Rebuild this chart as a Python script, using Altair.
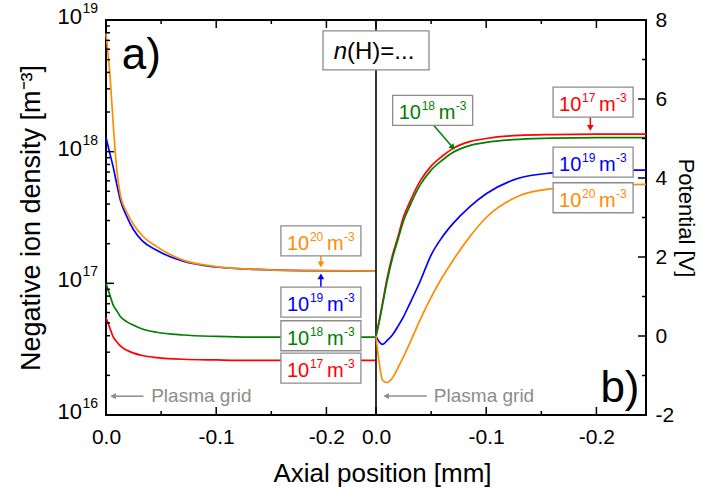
import json
import altair as alt
import pandas as pd

FONT = "Liberation Sans"
SPAN = 0.245  # mm of axial position shown in each panel

# ---------------- data ----------------
series_names = ["1e17", "1e18", "1e19", "1e20"]
series_colors = ["#ff0000", "#008000", "#0000ff", "#ff8c00"]

x_density = [0, -0.0036, -0.0066, -0.0097, -0.013, -0.019, -0.025, -0.033,
             -0.046, -0.07, -0.1, -0.13, -0.18, -0.245]
dens_1e17 = [5.5e16, 4.55e16, 3.9e16, 3.6e16, 3.35e16, 3.1e16, 2.95e16, 2.83e16,
             2.73e16, 2.65e16, 2.62e16, 2.6e16, 2.6e16, 2.6e16]
dens_1e18 = [1.0e17, 8.1e16, 6.8e16, 6.2e16, 5.6e16, 5.1e16, 4.8e16, 4.5e16,
             4.25e16, 4.05e16, 3.95e16, 3.9e16, 3.9e16, 3.9e16]
dens_1e19 = [1.28e18, 9.6e17, 7.6e17, 5.7e17, 4.3e17, 3.2e17, 2.55e17, 2.1e17,
             1.78e17, 1.47e17, 1.33e17, 1.28e17, 1.25e17, 1.24e17]
dens_1e20 = [7.9e18, 3.8e18, 1.6e18, 7.4e17, 4.7e17, 3.45e17, 2.8e17, 2.3e17,
             1.9e17, 1.5e17, 1.34e17, 1.28e17, 1.25e17, 1.24e17]

x_potential = [0, -0.003, -0.006, -0.01, -0.015, -0.02, -0.025, -0.03, -0.04,
               -0.05, -0.06, -0.07, -0.085, -0.1, -0.13, -0.16, -0.2, -0.245]
pot_1e17 = [0.0, 0.4, 0.85, 1.45, 2.05, 2.52, 3.02, 3.35, 3.92,
            4.3, 4.55, 4.75, 4.92, 5.0, 5.08, 5.1, 5.11, 5.11]
pot_1e18 = [0.0, 0.37, 0.8, 1.38, 1.98, 2.45, 2.92, 3.25, 3.82,
            4.2, 4.45, 4.65, 4.82, 4.9, 4.98, 5.01, 5.02, 5.02]
pot_1e19 = [0.0, -0.15, -0.21, -0.12, 0.03, 0.25, 0.49, 0.78, 1.38,
            2.05, 2.5, 2.85, 3.27, 3.6, 4.0, 4.13, 4.19, 4.2]
pot_1e20 = [0.0, -0.7, -1.12, -1.18, -1.06, -0.8, -0.52, -0.22, 0.41,
            0.98, 1.48, 1.92, 2.51, 3.0, 3.55, 3.73, 3.81, 3.84]

# axis ticks
x_ticks_mm = [0.0, -0.05, -0.1, -0.15, -0.2]
x_major_mm = [0.0, -0.1, -0.2]
x_major_labels = ["0.0", "-0.1", "-0.2"]
dens_domain = [1e16, 1e19]
dens_major = [1e16, 1e17, 1e18, 1e19]
dens_major_exp = ["16", "17", "18", "19"]
dens_minor_mult = [2, 3, 4, 5, 6, 7, 8, 9]
pot_domain = [-2, 8]
pot_ticks = [-2, -1, 0, 1, 2, 3, 4, 5, 6, 7, 8]
pot_major = [-2, 0, 2, 4, 6, 8]
pot_major_labels = ["-2", "0", "2", "4", "6", "8"]

# annotation boxes
left_box_exps = ["20", "19", "18", "17"]
left_box_colors = ["#ff8c00", "#0000ff", "#008000", "#ff0000"]
left_box_x = [-0.195, -0.195, -0.195, -0.195]
left_box_y = [2.1e17, 7.2e16, 4.0e16, 2.27e16]

right_box_exps = ["17", "18", "19", "20"]
right_box_colors = ["#ff0000", "#008000", "#0000ff", "#ff8c00"]
right_box_x = [-0.197, -0.0514, -0.197, -0.197]
right_box_y = [5.92, 5.71, 4.40, 3.50]

left_arrow_colors = ["#ff8c00", "#0000ff"]
left_arrow_x1 = [-0.195, -0.195]
left_arrow_x2 = [-0.195, -0.195]
left_arrow_y1 = [1.63e17, 9.3e16]
left_arrow_y2 = [1.39e17, 1.13e17]
left_arrow_shape = ["triangle-down", "triangle-up"]
left_arrow_angle = [0, 0]

right_arrow_colors = ["#ff0000", "#008000"]
right_arrow_x1 = [-0.1945, -0.0521]
right_arrow_x2 = [-0.1945, -0.0697]
right_arrow_y1 = [5.54, 5.34]
right_arrow_y2 = [5.27, 4.77]
right_arrow_shape = ["triangle-down", "triangle-down"]
right_arrow_angle = [0, 319]

GRAY = "#8c8c8c"
pg_text = "Plasma grid"
pg_left = {"tx": -0.041, "ty": 1.39e16, "ax1": -0.034, "ax2": -0.0064}
pg_right = {"tx": -0.0525, "ty": -1.52, "ax1": -0.046, "ax2": -0.0092}

panel_a = {"t": "a)", "x": -0.0143, "y": 4.26e18}
panel_b = {"t": "b)", "x": -0.2036, "y": -1.67}
nh_box = {"x": 0.0, "y": 7.23}

# ---------------- helpers ----------------
def lpos(v):
    return round(-v, 6) + 0.0


def rpos(v):
    return round(SPAN - v, 6) + 0.0


x_pos_all = [lpos(v) for v in x_ticks_mm] + [rpos(v) for v in x_ticks_mm]
x_pos_major = [lpos(v) for v in x_major_mm] + [rpos(v) for v in x_major_mm]
x_pos_minor = [p for p in x_pos_all if p not in x_pos_major]
x_label_expr = (f"{json.dumps(x_major_labels * 2)}"
                f"[indexof({json.dumps(x_pos_major)}, datum.value)] || ''")

dens_minor = []
for k in dens_major[:-1]:
    dens_minor += [m * k for m in dens_minor_mult]
pot_minor = [v for v in pot_ticks if v not in pot_major]

pot_label_expr = (f"{json.dumps(pot_major_labels)}"
                  f"[indexof({json.dumps(pot_major)}, datum.value)] || ''")

X_SCALE = alt.Scale(domain=[0, 2 * SPAN], nice=False, zero=False)
YL_SCALE = alt.Scale(type="log", domain=dens_domain, nice=False)
YR_SCALE = alt.Scale(domain=pot_domain, nice=False, zero=False)

NOTICKS = dict(ticks=False, tickSize=0, domain=False, grid=False)

AX_BOTTOM = alt.Axis(orient="bottom", values=x_pos_major, labelExpr=x_label_expr,
                     labelPadding=11, labelFlush=False, labelOverlap=False,
                     title="Axial position [mm]", titlePadding=13, titleX=276,
                     titleFontSize=26, **NOTICKS)
AX_TOP = alt.Axis(orient="top", values=x_pos_major, labels=False, title=None, **NOTICKS)
AX_LEFT = alt.Axis(orient="left", values=dens_major, labels=False,
                   title="Negative ion density [m⁻³]", titlePadding=61, titleFontSize=27,
                   **NOTICKS)
AX_RIGHT = alt.Axis(orient="right", values=pot_major, labelExpr=pot_label_expr,
                    labelPadding=9, labelFlush=False, labelOverlap=False,
                    title="Potential [V]", titlePadding=0, titleFontSize=22, **NOTICKS)


def XL(f="pos"):
    return alt.X(f"{f}:Q", scale=X_SCALE, axis=AX_BOTTOM)


def XR(f="pos"):
    return alt.X(f"{f}:Q", scale=X_SCALE, axis=AX_TOP)


def YL(f="yv"):
    return alt.Y(f"{f}:Q", scale=YL_SCALE, axis=AX_LEFT)


def YR(f="yv"):
    return alt.Y(f"{f}:Q", scale=YR_SCALE, axis=AX_RIGHT)


COL = alt.Color("col:N", scale=None)


def series_frame(xs, series):
    rows = []
    for name, col, vals in zip(series_names, series_colors, series):
        for x, v in zip(xs, vals):
            rows.append({"series": name, "col": col, "x": x, "yv": v})
    return pd.DataFrame(rows)


dens_df = series_frame(x_density, [dens_1e17, dens_1e18, dens_1e19, dens_1e20])
pot_df = series_frame(x_potential, [pot_1e17, pot_1e18, pot_1e19, pot_1e20])

BOX_PATH = "M-1,-0.375L1,-0.375L1,0.375L-1,0.375Z"
NH_PATH = "M-1,-0.368L1,-0.368L1,0.368L-1,0.368Z"

# inward tick glyphs: a stroke from the frame edge into the plot
TICK_UP = "M0,0L0,-1"
TICK_DOWN = "M0,0L0,1"
TICK_RIGHT = "M0,0L1,0"
TICK_LEFT = "M0,0L-1,0"
MAJOR_SIZE = 256   # 8 px long
MINOR_SIZE = 64    # 4 px long


def tick_layer(pos_vals, y_vals, path, size, X, Y):
    df = pd.DataFrame({"pos": pos_vals, "yv": y_vals})
    return alt.Chart(df).mark_point(shape=path, size=size, filled=False, color="black",
                                    strokeWidth=1.5, opacity=1).encode(x=X(), y=Y())


def label_layers(df, X, Y):
    base = alt.Chart(df)
    box = base.mark_point(shape=BOX_PATH, size=6400, filled=True, fill="white",
                          stroke="#8c8c8c", strokeWidth=1.3, opacity=1).encode(x=X(), y=Y())
    ten = base.mark_text(align="left", baseline="alphabetic", dx=-34, dy=9,
                         fontSize=20).encode(x=X(), y=Y(), text="ten:N", color=COL)
    ex = base.mark_text(align="left", baseline="alphabetic", dx=-11, dy=0,
                        fontSize=12).encode(x=X(), y=Y(), text="exp:N", color=COL)
    m = base.mark_text(align="left", baseline="alphabetic", dx=6, dy=9,
                       fontSize=20).encode(x=X(), y=Y(), text="unit:N", color=COL)
    mex = base.mark_text(align="left", baseline="alphabetic", dx=23, dy=0,
                         fontSize=12).encode(x=X(), y=Y(), text="uexp:N", color=COL)
    return [box, ten, ex, m, mex]


def box_frame(xs, ys, exps, cols, tofpos):
    return pd.DataFrame({"pos": [tofpos(v) for v in xs], "yv": ys, "exp": exps,
                         "col": cols, "ten": ["10"] * len(xs), "unit": ["m"] * len(xs),
                         "uexp": ["-3"] * len(xs)})


def arrow_layers(x1, x2, y1, y2, cols, shapes, angles, tofpos, X, Y):
    df = pd.DataFrame({"pos": [tofpos(v) for v in x1], "pos2": [tofpos(v) for v in x2],
                       "yv": y1, "yv2": y2, "col": cols, "shape": shapes, "ang": angles})
    base = alt.Chart(df)
    rule = base.mark_rule(strokeWidth=1.5).encode(
        x=X(), x2=alt.X2("pos2:Q"), y=Y(), y2=alt.Y2("yv2:Q"), color=COL)
    head = base.mark_point(filled=True, size=45, opacity=1).encode(
        x=X("pos2"), y=Y("yv2"), color=COL,
        shape=alt.Shape("shape:N", scale=None), angle=alt.Angle("ang:Q", scale=None))
    return [rule, head]


def plasma_layers(pg, tofpos, X, Y):
    df = pd.DataFrame({"pos": [tofpos(pg["ax1"])], "pos2": [tofpos(pg["ax2"])],
                       "tpos": [tofpos(pg["tx"])], "yv": [pg["ty"]],
                       "t": [pg_text], "shape": ["triangle-left"]})
    base = alt.Chart(df)
    rule = base.mark_rule(strokeWidth=1.5, color=GRAY).encode(
        x=X(), x2=alt.X2("pos2:Q"), y=Y())
    head = base.mark_point(filled=True, size=40, opacity=1, color=GRAY).encode(
        x=X("pos2"), y=Y(), shape=alt.Shape("shape:N", scale=None))
    txt = base.mark_text(align="left", baseline="middle", fontSize=19, color=GRAY).encode(
        x=X("tpos"), y=Y(), text="t:N")
    return [rule, head, txt]


# ---------------- left panel (density, log) ----------------
lines_L = alt.Chart(dens_df).transform_calculate(pos="-datum.x").mark_line(
    interpolate="monotone", strokeWidth=1.7).encode(
    x=XL(), y=YL(), color=COL, detail="series:N")

divider = alt.Chart(pd.DataFrame({"pos": [SPAN]})).mark_rule(
    color="black", strokeWidth=1.6).encode(x=XL())

a_df = pd.DataFrame({"pos": [lpos(panel_a["x"])], "yv": [panel_a["y"]], "t": [panel_a["t"]]})
a_txt = alt.Chart(a_df).mark_text(align="left", baseline="alphabetic", fontSize=44,
                                  color="black").encode(x=XL(), y=YL(), text="t:N")

tick_df = pd.DataFrame({"pos": [0.0] * len(dens_major), "yv": dens_major,
                        "ten": ["10"] * len(dens_major), "exp": dens_major_exp})
tick_ten = alt.Chart(tick_df).mark_text(align="right", baseline="alphabetic", dx=-24, dy=4,
                                        fontSize=22, color="black").encode(
    x=XL(), y=YL(), text="ten:N")
tick_exp = alt.Chart(tick_df).mark_text(align="right", baseline="alphabetic", dx=-8, dy=-7,
                                        fontSize=14, color="black").encode(
    x=XL(), y=YL(), text="exp:N")

nmaj, nmin = len(x_pos_major), len(x_pos_minor)
frame_ticks = [
    tick_layer(x_pos_major, [dens_domain[0]] * nmaj, TICK_UP, MAJOR_SIZE, XL, YL),
    tick_layer(x_pos_minor, [dens_domain[0]] * nmin, TICK_UP, MINOR_SIZE, XL, YL),
    tick_layer(x_pos_major, [dens_domain[1]] * nmaj, TICK_DOWN, MAJOR_SIZE, XL, YL),
    tick_layer(x_pos_minor, [dens_domain[1]] * nmin, TICK_DOWN, MINOR_SIZE, XL, YL),
    tick_layer([0.0] * len(dens_major), dens_major, TICK_RIGHT, MAJOR_SIZE, XL, YL),
    tick_layer([0.0] * len(dens_minor), dens_minor, TICK_RIGHT, MINOR_SIZE, XL, YL),
]

left_layers = [lines_L, divider] + frame_ticks
left_layers += plasma_layers(pg_left, lpos, XL, YL)
left_layers += [a_txt]
left_layers += arrow_layers(left_arrow_x1, left_arrow_x2, left_arrow_y1, left_arrow_y2,
                            left_arrow_colors, left_arrow_shape, left_arrow_angle, lpos, XL, YL)
left_layers += label_layers(box_frame(left_box_x, left_box_y, left_box_exps,
                                      left_box_colors, lpos), XL, YL)
left_layers += [tick_ten, tick_exp]
left = alt.layer(*left_layers)

# ---------------- right panel (potential) ----------------
lines_R = alt.Chart(pot_df).transform_calculate(pos=f"{SPAN} - datum.x").mark_line(
    interpolate="monotone", strokeWidth=1.7).encode(
    x=XR(), y=YR(), color=COL, detail="series:N")

b_df = pd.DataFrame({"pos": [rpos(panel_b["x"])], "yv": [panel_b["y"]], "t": [panel_b["t"]]})
b_txt = alt.Chart(b_df).mark_text(align="left", baseline="alphabetic", fontSize=44,
                                  color="black").encode(x=XR(), y=YR(), text="t:N")

nh_df = pd.DataFrame({"pos": [rpos(nh_box["x"])], "yv": [nh_box["y"]],
                      "n": ["n"], "rest": ["(H)=..."]})
nh_rect = alt.Chart(nh_df).mark_point(shape=NH_PATH, size=106 * 106, filled=True, fill="white",
                                      stroke="#8c8c8c", strokeWidth=1.3, opacity=1).encode(
    x=XR(), y=YR())
nh_n = alt.Chart(nh_df).mark_text(align="right", baseline="alphabetic", dx=-29, dy=8.5,
                                  fontSize=24, fontStyle="italic", color="black").encode(
    x=XR(), y=YR(), text="n:N")
nh_rest = alt.Chart(nh_df).mark_text(align="left", baseline="alphabetic", dx=-29, dy=8.5,
                                     fontSize=24, color="black").encode(
    x=XR(), y=YR(), text="rest:N")

right_ticks = [
    tick_layer([2 * SPAN] * len(pot_major), pot_major, TICK_LEFT, MAJOR_SIZE, XR, YR),
    tick_layer([2 * SPAN] * len(pot_minor), pot_minor, TICK_LEFT, MINOR_SIZE, XR, YR),
]

right_layers = [lines_R] + right_ticks
right_layers += plasma_layers(pg_right, rpos, XR, YR)
right_layers += [b_txt]
right_layers += arrow_layers(right_arrow_x1, right_arrow_x2, right_arrow_y1, right_arrow_y2,
                             right_arrow_colors, right_arrow_shape, right_arrow_angle, rpos, XR, YR)
right_layers += label_layers(box_frame(right_box_x, right_box_y, right_box_exps,
                                       right_box_colors, rpos), XR, YR)
right_layers += [nh_rect, nh_n, nh_rest]
right = alt.layer(*right_layers)

chart = alt.layer(left, right).resolve_scale(y="independent").resolve_axis(
    x="independent", y="independent"
).properties(
    width=540, height=395,
    autosize=alt.AutoSizeParams(type="none"),
    padding={"left": 106, "top": 20, "right": 55, "bottom": 74},
).configure_view(
    stroke="black", strokeWidth=2
).configure_axis(
    labelFont=FONT, titleFont=FONT, labelFontSize=21, titleFontSize=25,
    titleFontWeight="normal", labelColor="black", titleColor="black"
).configure_text(font=FONT)

chart.save("out.html", embed_options={"renderer": "svg", "actions": False})
